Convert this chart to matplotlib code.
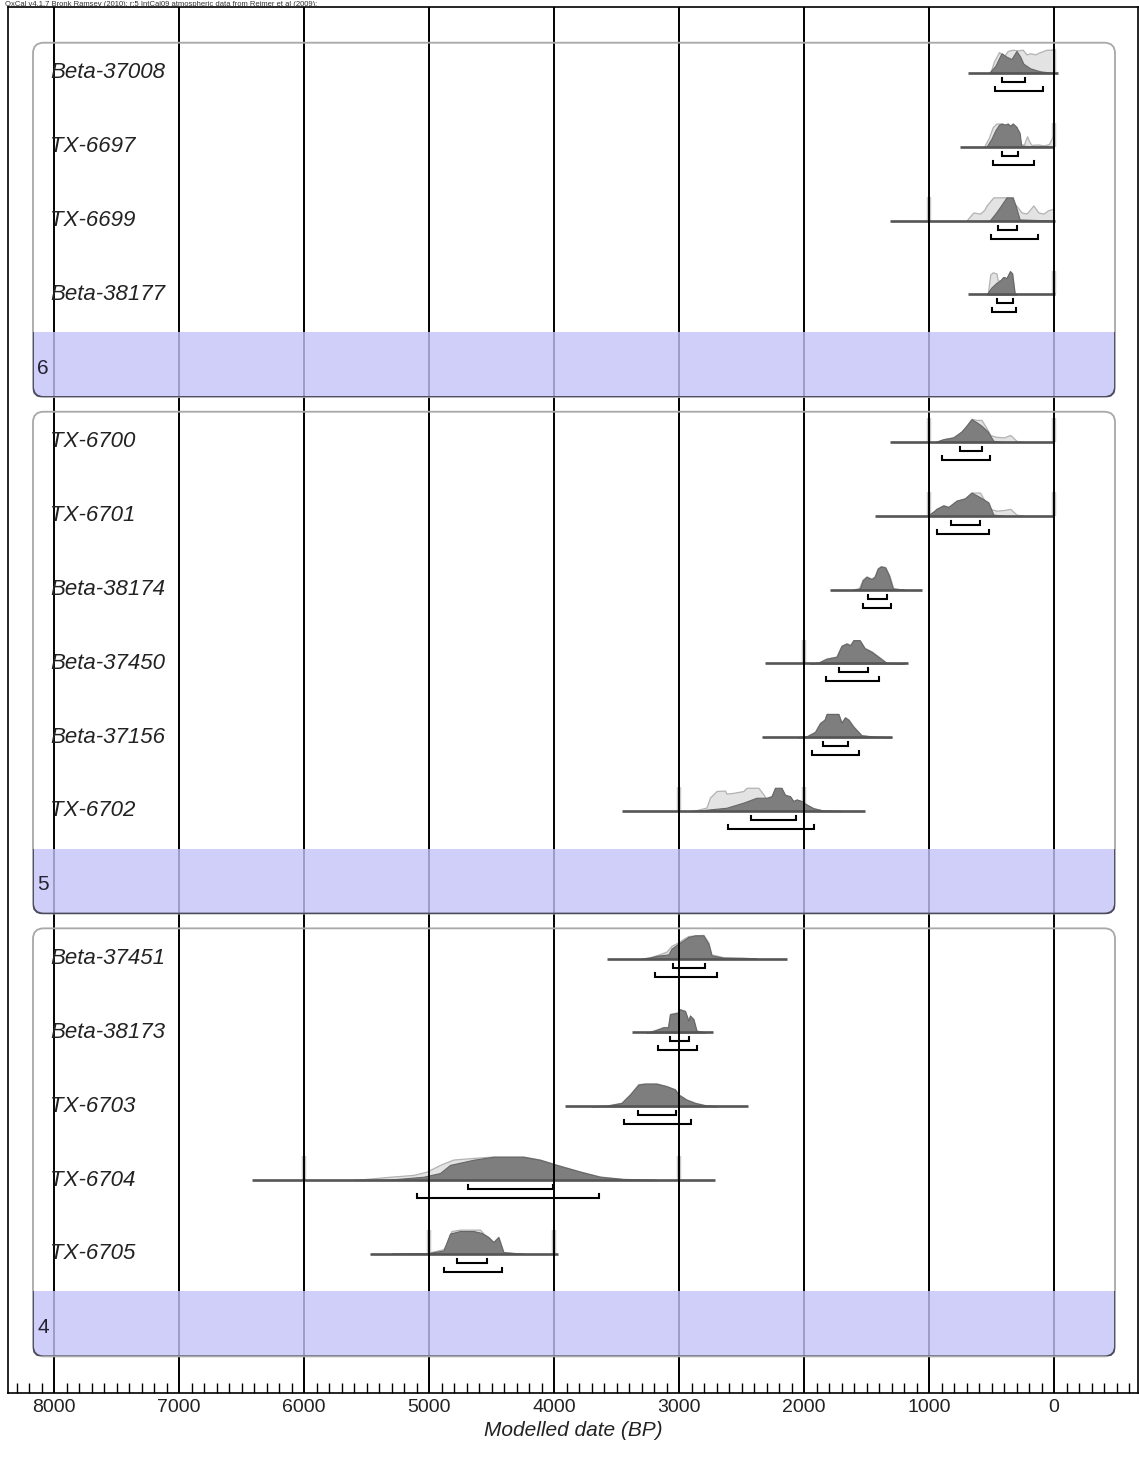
import numpy as np
import matplotlib
matplotlib.use("Agg")
import matplotlib.pyplot as plt
from matplotlib.patches import FancyBboxPatch, Rectangle

plt.rcParams["font.family"] = ["Liberation Sans", "DejaVu Sans"]

# ---- sample names, plotting rows and group phases ----
sample_names = ["Beta-37008", "TX-6697", "TX-6699", "Beta-38177",
                "TX-6700", "TX-6701", "Beta-38174", "Beta-37450", "Beta-37156", "TX-6702",
                "Beta-37451", "Beta-38173", "TX-6703", "TX-6704", "TX-6705"]
sample_rows = [0, 1, 2, 3, 5, 6, 7, 8, 9, 10, 12, 13, 14, 15, 16]
group_labels = ["6", "5", "4"]
group_first_row = [0, 5, 12]
group_band_row = [4, 11, 17]

# ---- baseline extents (BP) ----
spans = [(688, -30), (752, 0), (1312, -10), (688, -10),
         (1312, 0), (1432, 0), (1792, 1060), (2312, 1165), (2336, 1300), (3459, 1512),
         (3579, 2139), (3379, 2731), (3912, 2445), (6419, 2712), (5472, 3965)]

# ---- highest posterior density ranges (BP): 68.2% and 95.4% ----
range68 = [(416, 232), (419, 291), (445, 293), (459, 331),
           (752, 573), (827, 592), (1491, 1339), (1717, 1485), (1851, 1645), (2427, 2067),
           (3045, 2792), (3072, 2917), (3325, 3027), (4685, 4008), (4779, 4533)]
range95 = [(472, 88), (491, 157), (507, 131), (493, 307),
           (899, 512), (939, 517), (1525, 1304), (1824, 1400), (1939, 1560), (2611, 1920),
           (3192, 2699), (3165, 2853), (3440, 2907), (5099, 3640), (4880, 4419)]

# ---- calibration range markers (BP) ----
stubs = [[0], [0], [1000], [0],
         [1000, 0], [1000, 0], [], [2000], [], [3000, 2000],
         [], [], [], [6000, 3000], [5000, 4000]]

# ---- unmodelled (likelihood) and modelled (posterior) probability shapes: (BP, relative density) ----
like_beta37008 = [(510, 0), (480, 0.5), (440, 0.9), (400, 0.72), (370, 0.95), (330, 1.0), (290, 0.97),
                  (250, 1.0), (220, 0.8), (190, 0.85), (150, 0.8), (120, 0.88), (60, 1.0), (2, 1.0), (0, 0)]
post_beta37008 = [(520, 0), (470, 0.3), (420, 0.85), (380, 0.7), (340, 0.6), (300, 0.95), (270, 0.7),
                  (245, 0.4), (190, 0.2), (110, 0.07), (0, 0)]

like_tx6697 = [(560, 0), (520, 0.4), (490, 0.85), (460, 1.0), (420, 1.0), (390, 0.95), (370, 1.0),
               (350, 0.9), (330, 1.0), (300, 0.85), (270, 0.1), (240, 0.1), (230, 0.25), (215, 0.45),
               (200, 0.25), (180, 0.08), (130, 0.1), (80, 0.06), (40, 0.12), (10, 0.45), (2, 0.5), (0, 0)]
post_tx6697 = [(540, 0), (500, 0.35), (470, 0.7), (440, 0.95), (420, 1.0), (390, 0.95), (370, 1.0),
               (350, 0.9), (330, 1.0), (300, 0.85), (275, 0.6), (262, 0.05), (200, 0.03), (0, 0)]

like_tx6699 = [(700, 0), (645, 0.35), (592, 0.3), (560, 0.45), (539, 0.65), (485, 1.0), (380, 1.0),
               (340, 0.9), (259, 0.35), (219, 0.3), (165, 0.65), (125, 0.35), (85, 0.3), (45, 0.45),
               (5, 0.5), (0, 0)]
post_tx6699 = [(515, 0), (470, 0.3), (430, 0.6), (405, 0.8), (380, 1.0), (330, 1.0), (305, 0.6),
               (275, 0.05), (0, 0)]

like_beta38177 = [(530, 0), (510, 0.85), (490, 0.95), (460, 0.9), (450, 0.6), (430, 0.6), (405, 0.75),
                  (380, 0.7), (352, 1.0), (335, 0.9), (315, 0.05), (300, 0)]
post_beta38177 = [(540, 0), (500, 0.3), (460, 0.5), (430, 0.6), (405, 0.75), (380, 0.7), (352, 1.0),
                  (335, 0.9), (315, 0.05), (300, 0)]

like_tx6700 = [(950, 0), (885, 0.12), (805, 0.2), (740, 0.45), (700, 0.7), (660, 1.0), (620, 0.95),
               (580, 0.95), (540, 0.6), (510, 0.3), (460, 0.22), (400, 0.2), (350, 0.3), (300, 0.05), (250, 0)]
post_tx6700 = [(950, 0), (885, 0.12), (805, 0.2), (740, 0.45), (700, 0.7), (660, 0.98), (620, 0.85),
               (580, 0.7), (530, 0.45), (485, 0.05), (400, 0)]

like_tx6701 = [(1010, 0), (960, 0.2), (940, 0.3), (885, 0.45), (845, 0.38), (780, 0.65), (712, 0.75),
               (660, 1.0), (592, 1.0), (560, 0.7), (512, 0.3), (460, 0.22), (400, 0.25), (350, 0.3),
               (300, 0.05), (250, 0)]
post_tx6701 = [(1010, 0), (960, 0.2), (940, 0.3), (885, 0.45), (845, 0.38), (780, 0.65), (712, 0.75),
               (660, 1.0), (592, 0.8), (525, 0.58), (485, 0.05), (400, 0)]

like_beta38174 = [(1610, 0), (1560, 0.06), (1532, 0.42), (1500, 0.57), (1460, 0.47), (1435, 0.57),
                  (1410, 0.92), (1385, 1.0), (1350, 0.97), (1318, 0.62), (1285, 0.05), (1200, 0)]
post_beta38174 = [(1600, 0), (1552, 0.05), (1530, 0.4), (1500, 0.55), (1460, 0.45), (1435, 0.55),
                  (1410, 0.9), (1385, 1.0), (1350, 0.95), (1320, 0.6), (1290, 0.05), (1200, 0)]

like_beta37450 = [(1950, 0), (1885, 0.04), (1820, 0.21), (1740, 0.3), (1700, 0.77), (1660, 0.87),
                  (1630, 0.8), (1605, 1.0), (1555, 1.0), (1515, 0.67), (1460, 0.52), (1410, 0.32),
                  (1340, 0.03), (1200, 0)]
post_beta37450 = [(1950, 0), (1885, 0.03), (1820, 0.2), (1740, 0.28), (1700, 0.75), (1660, 0.85),
                  (1630, 0.78), (1605, 1.0), (1555, 1.0), (1515, 0.65), (1460, 0.5), (1410, 0.3),
                  (1340, 0.02), (1200, 0)]

like_beta37156 = [(2050, 0), (1980, 0.04), (1912, 0.24), (1872, 0.62), (1835, 0.77), (1819, 1.0),
                  (1725, 1.0), (1700, 0.64), (1672, 0.86), (1645, 0.77), (1605, 0.47), (1540, 0.09),
                  (1430, 0.02), (1300, 0)]
post_beta37156 = [(2050, 0), (1980, 0.03), (1912, 0.22), (1872, 0.6), (1835, 0.75), (1819, 1.0),
                  (1725, 1.0), (1700, 0.62), (1672, 0.85), (1645, 0.75), (1605, 0.45), (1540, 0.08),
                  (1430, 0.02), (1300, 0)]

like_tx6702 = [(2900, 0), (2872, 0.02), (2780, 0.15), (2752, 0.58), (2700, 0.86), (2632, 0.88),
               (2620, 0.75), (2565, 0.78), (2485, 0.86), (2459, 1.0), (2365, 1.0), (2325, 0.72),
               (2299, 0.5), (2260, 0.6), (2232, 0.95), (2180, 0.95), (2152, 0.68), (2112, 0.6),
               (2085, 0.42), (2060, 0.48), (2020, 0.42), (1980, 0.28), (1925, 0.12), (1845, 0.02), (1700, 0)]
post_tx6702 = [(2900, 0), (2845, 0.02), (2620, 0.14), (2485, 0.36), (2380, 0.57), (2300, 0.57),
               (2260, 0.64), (2232, 1.0), (2180, 1.0), (2152, 0.7), (2112, 0.64), (2085, 0.43),
               (2060, 0.5), (2020, 0.43), (1980, 0.28), (1925, 0.12), (1845, 0.02), (1700, 0)]

like_beta37451 = [(3300, 0), (3230, 0.06), (3180, 0.14), (3100, 0.3), (3060, 0.55), (3005, 0.7),
                  (2965, 0.85), (2925, 0.97), (2872, 1.0), (2805, 1.02), (2765, 0.7), (2740, 0.18),
                  (2645, 0.06), (2500, 0.05), (2380, 0)]
post_beta37451 = [(3300, 0), (3230, 0.05), (3180, 0.12), (3085, 0.18), (3060, 0.43), (3005, 0.64),
                  (2965, 0.78), (2925, 0.93), (2872, 1.0), (2805, 1.0), (2765, 0.64), (2740, 0.14),
                  (2645, 0.04), (2380, 0)]

like_beta38173 = [(3260, 0), (3232, 0.03), (3165, 0.15), (3125, 0.23), (3088, 0.23), (3072, 0.8),
                  (3005, 0.87), (2997, 1.0), (2952, 0.93), (2925, 0.52), (2912, 0.73), (2885, 0.58),
                  (2860, 0.08), (2790, 0)]
post_beta38173 = [(3260, 0), (3232, 0.02), (3165, 0.14), (3125, 0.22), (3088, 0.22), (3072, 0.78),
                  (3005, 0.85), (2997, 1.0), (2952, 0.92), (2925, 0.5), (2912, 0.72), (2885, 0.57),
                  (2860, 0.07), (2790, 0)]

like_tx6703 = [(3700, 0), (3580, 0.03), (3460, 0.15), (3392, 0.52), (3325, 0.95), (3272, 0.98),
               (3180, 0.98), (3100, 0.87), (3032, 0.73), (3005, 0.52), (2940, 0.29), (2872, 0.15),
               (2792, 0.05), (2700, 0)]
post_tx6703 = [(3700, 0), (3580, 0.02), (3460, 0.14), (3392, 0.5), (3325, 0.93), (3272, 0.97),
               (3180, 0.97), (3100, 0.86), (3032, 0.72), (3005, 0.5), (2940, 0.28), (2872, 0.14),
               (2792, 0.04), (2700, 0)]

like_tx6704 = [(5600, 0), (5579, 0.01), (5312, 0.14), (5125, 0.22), (5019, 0.36), (4912, 0.65),
               (4805, 0.88), (4645, 0.95), (4485, 1.01), (4245, 1.01), (4112, 0.88), (3980, 0.66),
               (3792, 0.37), (3632, 0.15), (3445, 0.05), (3180, 0)]
post_tx6704 = [(5600, 0), (5312, 0.02), (5045, 0.14), (4912, 0.3), (4832, 0.65), (4645, 0.87),
               (4485, 1.0), (4245, 1.0), (4112, 0.87), (3980, 0.65), (3792, 0.36), (3632, 0.14),
               (3445, 0.04), (3180, 0)]

like_tx6705 = [(5300, 0), (5019, 0.03), (4885, 0.2), (4860, 0.4), (4820, 0.98), (4752, 1.04),
               (4592, 1.04), (4560, 0.85), (4525, 0.72), (4485, 0.52), (4445, 0.73), (4405, 0.08),
               (4245, 0)]
post_tx6705 = [(5300, 0), (5019, 0.02), (4885, 0.14), (4832, 0.87), (4752, 0.98), (4645, 0.98),
               (4580, 0.9), (4525, 0.72), (4485, 0.5), (4445, 0.72), (4405, 0.07), (4245, 0)]

likelihoods = [like_beta37008, like_tx6697, like_tx6699, like_beta38177,
               like_tx6700, like_tx6701, like_beta38174, like_beta37450, like_beta37156, like_tx6702,
               like_beta37451, like_beta38173, like_tx6703, like_tx6704, like_tx6705]
posteriors = [post_beta37008, post_tx6697, post_tx6699, post_beta38177,
              post_tx6700, post_tx6701, post_beta38174, post_beta37450, post_beta37156, post_tx6702,
              post_beta37451, post_beta38173, post_tx6703, post_tx6704, post_tx6705]

major_ticks = [8000, 7000, 6000, 5000, 4000, 3000, 2000, 1000, 0]
header = "OxCal v4.1.7 Bronk Ramsey (2010); r:5 IntCal09 atmospheric data from Reimer et al (2009);"

# ---- figure ----
W, H_PX = 1139, 1473
fig = plt.figure(figsize=(W / 100, H_PX / 100), dpi=100)
ax = fig.add_axes([8 / W, 80 / H_PX, 1130 / W, 1386 / H_PX])
ax.set_xlim(8368, -672)
ax.set_ylim(17.886, -0.894)

PEAK = 0.315            # height of a unit-density peak, in rows
BOX_L, BOX_R = 8168, -488

# vertical reference lines
for t in major_ticks:
    ax.axvline(t, color="black", lw=1.4, zorder=3)

# group boxes with coloured phase bands
px_x = 8.0              # BP per pixel
px_y = 1 / 73.8         # rows per pixel
aspect = px_y / px_x
for lab, r0, rb in zip(group_labels, group_first_row, group_band_row):
    top, band_top, bottom = r0 - 0.41, rb - 0.49, rb + 0.39
    box = FancyBboxPatch((BOX_R, top), BOX_L - BOX_R, bottom - top,
                         boxstyle="round,pad=0,rounding_size=85", mutation_aspect=aspect,
                         facecolor="none", edgecolor="#a8a8a8", lw=1.3, zorder=6)
    ax.add_patch(box)
    band = Rectangle((BOX_R, band_top), BOX_L - BOX_R, bottom - band_top,
                     facecolor=(196 / 255, 196 / 255, 249 / 255), alpha=0.8,
                     edgecolor="none", zorder=5)
    ax.add_patch(band)
    band.set_clip_path(box)
    edge = FancyBboxPatch((BOX_R, top), BOX_L - BOX_R, bottom - top,
                          boxstyle="round,pad=0,rounding_size=85", mutation_aspect=aspect,
                          facecolor="none", edgecolor="#4a4a60", lw=1.3, zorder=7)
    ax.add_patch(edge)
    edge.set_clip_path(band)
    ax.text(8135, rb, lab, fontsize=15, color="#222233", ha="left", va="center", zorder=8)

# samples
for name, row, like, post, sp, r68, r95, st in zip(sample_names, sample_rows, likelihoods,
                                                  posteriors, spans, range68, range95, stubs):
    for s in st:
        ax.plot([s, s], [row, row - PEAK * 1.02], color="#c9c9c9", lw=3.2,
                solid_capstyle="butt", zorder=2)
    lx = np.array([p[0] for p in like], float)
    ly = np.array([p[1] for p in like], float)
    ax.fill_between(lx, row, row - PEAK * ly, facecolor="#e3e3e3", edgecolor="#b2b2b2",
                    lw=0.9, zorder=2.2)
    px = np.array([p[0] for p in post], float)
    py = np.array([p[1] for p in post], float)
    ax.fill_between(px, row, row - PEAK * py, facecolor="#7e7e7e", edgecolor="#666666",
                    lw=0.8, zorder=2.4)
    ax.plot(sp, [row, row], color="#555555", lw=1.9, solid_capstyle="butt", zorder=2.6)
    for (a, b), dy in ((r68, 0.122), (r95, 0.244)):
        y = row + dy
        ax.plot([a, a, b, b], [y - 0.055, y, y, y - 0.055], color="black", lw=1.5,
                solid_joinstyle="miter", zorder=4)
    ax.text(8032, row, name, fontsize=16, style="italic", color="#222222",
            ha="left", va="center", zorder=8)

# axis styling
for sp_name in ("top", "bottom", "left", "right"):
    ax.spines[sp_name].set_color("black")
    ax.spines[sp_name].set_linewidth(1.2)
ax.set_yticks([])
ax.set_xticks(major_ticks)
ax.set_xticklabels([str(t) for t in major_ticks], fontsize=14, color="#222222")
ax.set_xticks(np.arange(-600, 8400, 100), minor=True)
ax.tick_params(axis="x", which="minor", direction="in", length=7, width=1.0)
ax.tick_params(axis="x", which="major", direction="in", length=0, pad=4)
ax.set_xlabel("Modelled date (BP)", fontsize=15, style="italic", color="#222222", labelpad=4)

fig.text(5 / W, 1 - 0.5 / H_PX, header, fontsize=5.5, ha="left", va="top", color="#333333")

fig.savefig("out.png", dpi=100)
